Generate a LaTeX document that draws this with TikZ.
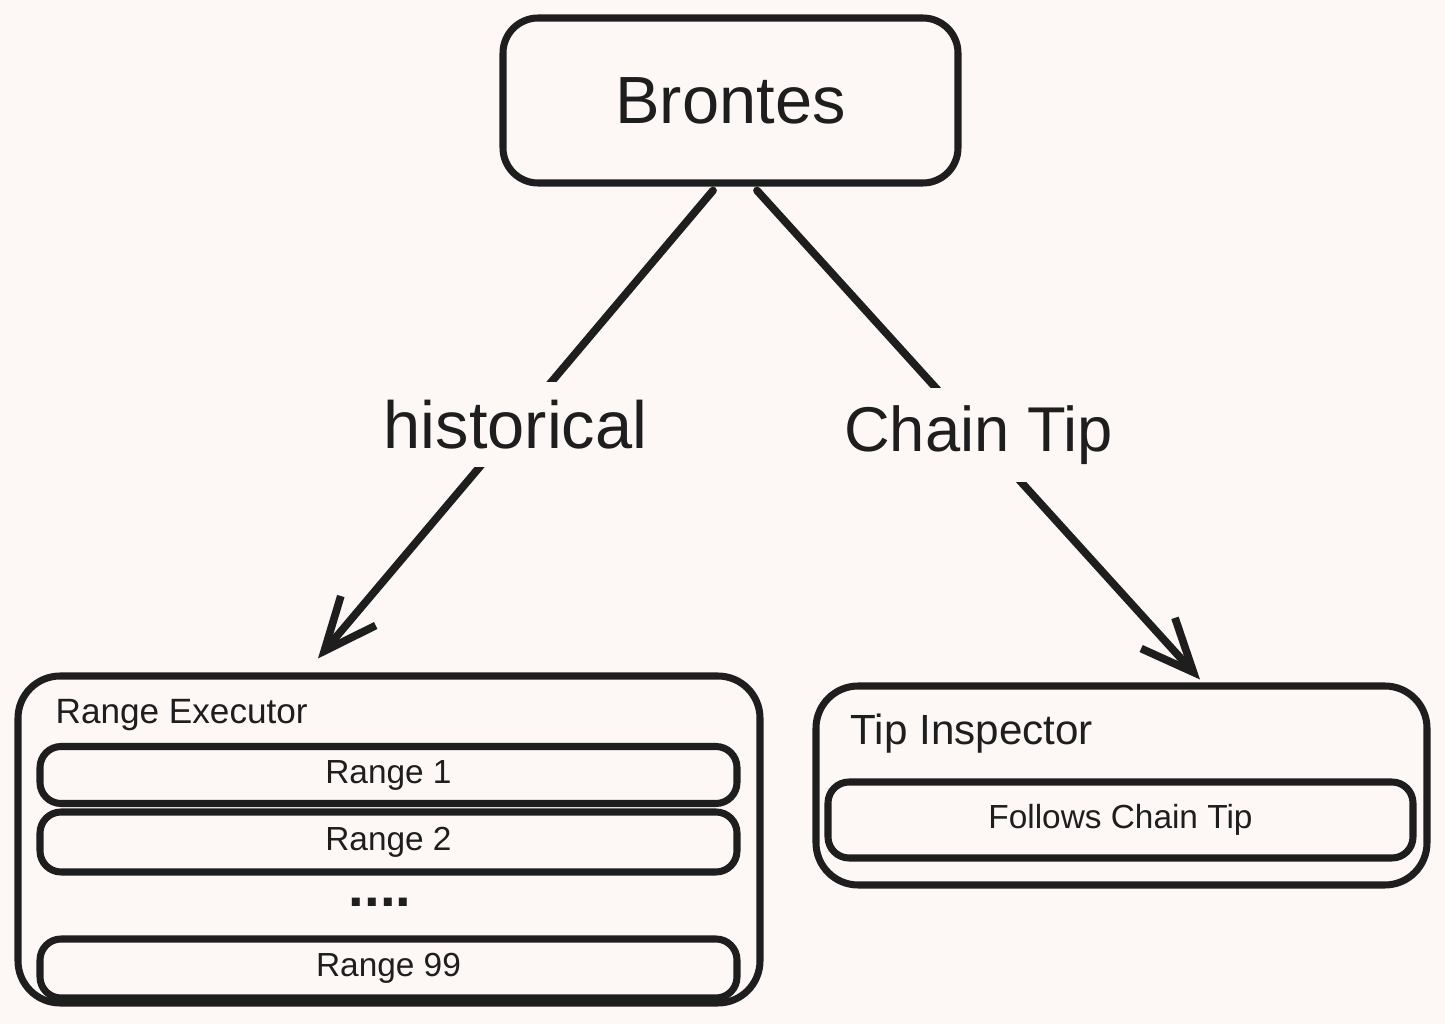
\documentclass[tikz,border=0pt]{standalone}
\usepackage{fontspec}
\setmainfont{Liberation Sans}
\usetikzlibrary{arrows.meta}
\definecolor{paper}{HTML}{FDF8F6}
\definecolor{ink}{HTML}{1E1E1E}
\tikzset{
	box/.style={draw=ink, line width=2pt, text=ink, inner sep=0pt},
	outer/.style={box, rounded corners=12pt},
	inner/.style={box, rounded corners=6pt, font=\fontsize{9.5}{11}\selectfont},
	title/.style={text=ink, anchor=west, inner sep=0pt},
	lbl/.style={fill=paper, text=ink, inner sep=5pt},
	link/.style={draw=ink, line width=2.2pt, line cap=round,
		-{Straight Barb[length=15pt, width=13pt, line width=2.2pt]}},
}

\begin{document}
\begin{tikzpicture}
	\fill [paper] (0,0) rectangle (14.45,10.24);
	\useasboundingbox (0,0) rectangle (14.45,10.24);

	\node [box, rounded corners=10pt, minimum width=4.55cm, minimum height=1.65cm,
		font=\fontsize{19}{23}\selectfont] (brontes) at (7.305,9.235) {Brontes};

	\node [outer, minimum width=7.42cm, minimum height=3.27cm] (range) at (3.89,1.845) {};
	\node [title, font=\fontsize{10}{12}\selectfont] (rangetitle) at (0.55,3.09) {Range Executor};
	\node [inner, minimum width=6.97cm, minimum height=0.57cm] (r1) at (3.885,2.49) {Range 1};
	\node [inner, minimum width=6.97cm, minimum height=0.60cm] (r2) at (3.885,1.82) {Range 2};
	\node [text=ink, font=\fontsize{16}{18}\selectfont\bfseries] (dots) at (3.8,1.22) {....};
	\node [inner, minimum width=6.97cm, minimum height=0.59cm] (r99) at (3.885,0.555) {Range 99};

	\node [outer, minimum width=6.11cm, minimum height=1.99cm] (tip) at (11.215,2.385) {};
	\node [title, font=\fontsize{12}{14}\selectfont] (tiptitle) at (8.5,2.9) {Tip Inspector};
	\node [inner, minimum width=5.85cm, minimum height=0.76cm] (follow) at (11.205,2.04) {Follows Chain Tip};

	\draw [link] ([xshift=-0.175cm,yshift=-0.04cm]brontes.south) -- ([xshift=-0.71cm,yshift=0.14cm]range.north)
		node [lbl, midway, font=\fontsize{19}{23}\selectfont] (hist) {historical};
	\draw [link] ([xshift=0.265cm,yshift=-0.04cm]brontes.south) -- ([xshift=0.785cm,yshift=0.03cm]tip.north)
		node [lbl, midway, font=\fontsize{18}{22}\selectfont] (chain) {Chain Tip};
\end{tikzpicture}
\end{document}
